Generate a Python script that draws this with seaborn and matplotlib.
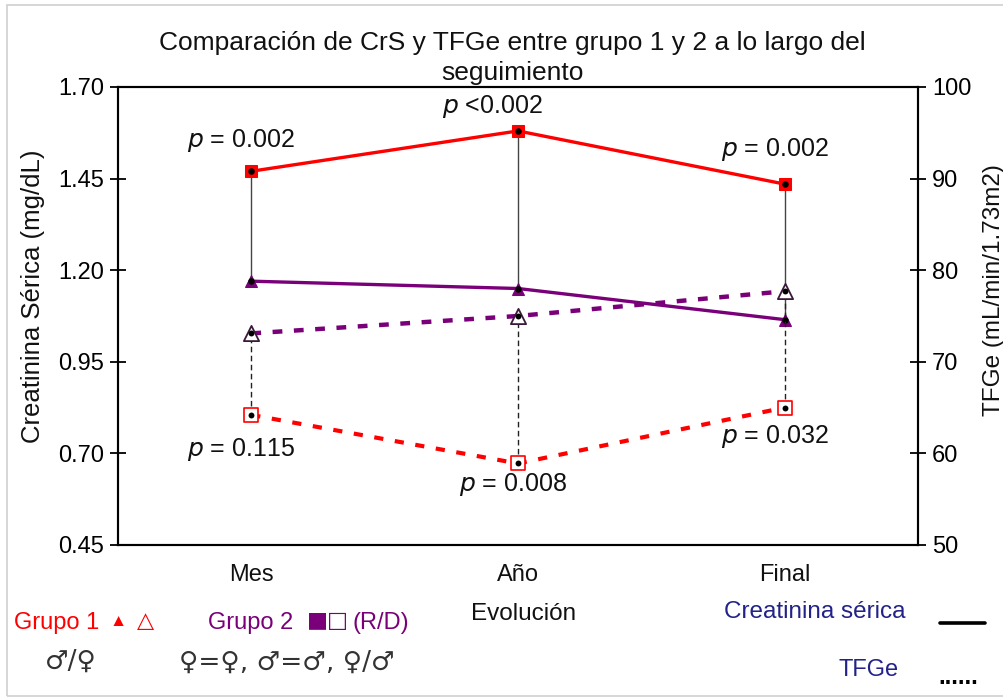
import numpy as np
import pandas as pd
import matplotlib
matplotlib.use("Agg")
import matplotlib.pyplot as plt
from matplotlib.lines import Line2D
from matplotlib.patches import Rectangle
import seaborn as sns

# Time points of follow-up
periodos = ["Mes", "Año", "Final"]

# Serum creatinine (mg/dL), left axis
crs_grupo1 = [1.47, 1.58, 1.435]
crs_grupo2 = [1.17, 1.15, 1.065]

# Estimated GFR (mL/min/1.73m2), right axis
tfge_grupo1 = [64.2, 58.9, 65.0]
tfge_grupo2 = [73.1, 75.0, 77.7]

# p-values between groups
p_crs = ["p = 0.002", "p <0.002", "p = 0.002"]
p_tfge = ["p = 0.115", "p = 0.008", "p = 0.032"]

ROJO = "#ff0000"
MORADO = "#7a007a"
AZUL = "#222288"

sns.set_theme(style="white")
FAM = ["Liberation Sans", "DejaVu Sans"]
plt.rcParams["font.family"] = FAM

fig = plt.figure(figsize=(10.04, 6.98), dpi=100)
ax = fig.add_axes([0.1175, 0.2192, 0.7968, 0.6562])
ax2 = ax.twinx()

pos = np.arange(len(periodos))
df = pd.DataFrame({
    "pos": pos,
    "crs1": crs_grupo1, "crs2": crs_grupo2,
    "tfg1": tfge_grupo1, "tfg2": tfge_grupo2,
})

# vertical connectors between groups
ax.vlines(pos, df["crs2"], df["crs1"], color="#444444", lw=1.0, zorder=2)
ax2.vlines(pos, df["tfg1"], df["tfg2"], color="#222222", lw=1.0,
           linestyles=(0, (4, 2.5)), zorder=2)

# creatinine lines (solid)
sns.lineplot(data=df, x="pos", y="crs1", ax=ax, color=ROJO, lw=2.4,
             marker="s", markersize=8, markerfacecolor=ROJO,
             markeredgecolor=ROJO, zorder=4)
sns.lineplot(data=df, x="pos", y="crs2", ax=ax, color=MORADO, lw=2.4,
             marker="^", markersize=8, markerfacecolor=MORADO,
             markeredgecolor=MORADO, zorder=4)

# GFR lines (dashed)
sns.lineplot(data=df, x="pos", y="tfg2", ax=ax2, color=MORADO, lw=3.2,
             dashes=False, zorder=4)
ax2.lines[-1].set_linestyle((0, (2.2, 2.6)))
sns.lineplot(data=df, x="pos", y="tfg1", ax=ax2, color=ROJO, lw=3.0,
             dashes=False, zorder=4)
ax2.lines[-1].set_linestyle((0, (2.2, 2.8)))
sns.scatterplot(data=df, x="pos", y="tfg2", ax=ax2, marker="^", s=120,
                facecolor="white", edgecolor="#3a1a3a", linewidth=1.3, zorder=5)
sns.scatterplot(data=df, x="pos", y="tfg1", ax=ax2, marker="s", s=90,
                facecolor="white", edgecolor=ROJO, linewidth=1.2, zorder=5)

# black endpoints of the connectors
sns.scatterplot(data=df, x="pos", y="crs1", ax=ax, color="black", s=22, zorder=6, linewidth=0)
sns.scatterplot(data=df, x="pos", y="crs2", ax=ax, color="black", s=22, zorder=6, linewidth=0)
sns.scatterplot(data=df, x="pos", y="tfg1", ax=ax2, color="black", s=18, zorder=6, linewidth=0)
sns.scatterplot(data=df, x="pos", y="tfg2", ax=ax2, color="black", s=18, zorder=6, linewidth=0)

# axes limits and ticks
ax.set_xlim(-0.5, 2.5)
ax.set_ylim(0.45, 1.70)
ax2.set_ylim(50, 100)
ax.set_yticks(np.arange(0.45, 1.701, 0.25))
ax.set_yticklabels([f"{v:.2f}" for v in np.arange(0.45, 1.701, 0.25)])
ax2.set_yticks(np.arange(50, 101, 10))
ax.set_xticks([-0.5, 0.5, 1.5, 2.5])
ax.set_xticklabels([])
ax.set_xlabel("")
ax.set_ylabel("")
ax2.set_ylabel("")
for p, lab in zip(pos, periodos):
    ax.text(p, -0.066, lab, transform=ax.get_xaxis_transform(),
            ha="center", va="center", fontsize=17, color="#111111")

for a in (ax, ax2):
    for s in a.spines.values():
        s.set_color("black")
        s.set_linewidth(1.5)
ax.tick_params(axis="y", direction="inout", length=12, width=1.3,
               labelsize=17, colors="black", pad=4)
ax.tick_params(axis="x", direction="inout", length=12, width=1.3)
ax2.tick_params(axis="y", direction="inout", length=12, width=1.3,
                labelsize=17, colors="black", pad=4)
ax.grid(False)
ax2.grid(False)

# p-value annotations
def ptext(axis, x, y, s):
    txt = s.replace("p", r"$\it{p}$", 1)
    axis.text(x, y, txt, ha="center", va="center", fontsize=18, color="#111111")

ptext(ax, 0 - 0.04, 1.555, p_crs[0])
ptext(ax, 1 - 0.095, 1.648, p_crs[1])
ptext(ax, 2 - 0.037, 1.528, p_crs[2])
ptext(ax2, 0 - 0.04, 60.4, p_tfge[0])
ptext(ax2, 1 - 0.02, 56.6, p_tfge[1])
ptext(ax2, 2 - 0.037, 61.8, p_tfge[2])

# title and axis titles
fig.text(0.51, 0.939, "Comparación de CrS y TFGe entre grupo 1 y 2 a lo largo del",
         ha="center", va="center", fontsize=19, color="#111111")
fig.text(0.51, 0.896, "seguimiento", ha="center", va="center",
         fontsize=19, color="#111111")
fig.text(0.033, 0.576, "Creatinina Sérica (mg/dL)", rotation=90,
         ha="center", va="center", fontsize=18.5, color="#111111")
fig.text(0.990, 0.585, "TFGe (mL/min/1.73m2)", rotation=90,
         ha="center", va="center", fontsize=17.5, color="#111111")
fig.text(0.521, 0.121, "Evolución", ha="center", va="center",
         fontsize=17.5, color="#111111")

# group key below the plot
fig.text(0.014, 0.108, "Grupo 1", ha="left", va="center", fontsize=17, color=ROJO)
fig.text(0.109, 0.110, "▲", ha="left", va="center", fontsize=12.5, color=ROJO, family=FAM)
fig.text(0.136, 0.110, "△", ha="left", va="center", fontsize=16, color=ROJO, family=["DejaVu Sans"])
fig.text(0.207, 0.108, "Grupo 2", ha="left", va="center", fontsize=17, color=MORADO)
fig.text(0.306, 0.110, "■□", ha="left", va="center", fontsize=16, color=MORADO,
         family=["DejaVu Sans"])
fig.text(0.351, 0.108, "(R/D)", ha="left", va="center", fontsize=17, color=MORADO)
fig.text(0.071, 0.052, "♂/♀", ha="center", va="center", fontsize=19, color="#333333",
         family=["DejaVu Sans"])
fig.text(0.286, 0.050, "♀=♀, ♂=♂, ♀/♂", ha="center", va="center", fontsize=19,
         color="#333333", family=["DejaVu Sans"])

# line-style key
fig.text(0.902, 0.123, "Creatinina sérica", ha="right", va="center", fontsize=17.5, color=AZUL)
fig.text(0.895, 0.040, "TFGe", ha="right", va="center", fontsize=17, color=AZUL)
fig.add_artist(Line2D([0.936, 0.981], [0.108, 0.108], color="black", lw=2.6,
                      transform=fig.transFigure))
fig.text(0.935, 0.030, "......", ha="left", va="center", fontsize=17, color="black",
         fontweight="bold")

# outer frame
fig.add_artist(Rectangle((0.007, 0.003), 1.05, 0.990, transform=fig.transFigure,
                         fill=False, edgecolor="#cfcfcf", lw=1.2))

fig.savefig("out.png", dpi=100)
